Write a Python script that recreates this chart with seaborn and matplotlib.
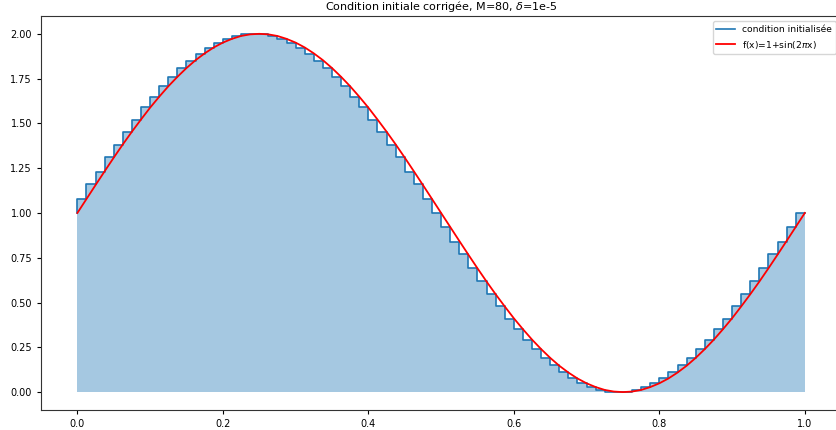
import matplotlib
matplotlib.use("Agg")
import matplotlib.pyplot as plt
import numpy as np
import seaborn as sns

# maillage : M cellules sur [0, 1]
M = 80
x_nodes = np.linspace(0.0, 1.0, M + 1)

# condition initialisée (valeur portée sur chaque cellule)
u0 = [
    1.00, 1.08, 1.16, 1.23, 1.31, 1.38, 1.45, 1.52, 1.59, 1.65,
    1.71, 1.76, 1.81, 1.85, 1.89, 1.92, 1.95, 1.97, 1.99, 2.00,
    2.00, 2.00, 1.99, 1.97, 1.95, 1.92, 1.89, 1.85, 1.81, 1.76,
    1.71, 1.65, 1.59, 1.52, 1.45, 1.38, 1.31, 1.23, 1.16, 1.08,
    1.00, 0.92, 0.84, 0.77, 0.69, 0.62, 0.55, 0.48, 0.41, 0.35,
    0.29, 0.24, 0.19, 0.15, 0.11, 0.08, 0.05, 0.03, 0.01, 0.00,
    0.00, 0.00, 0.01, 0.03, 0.05, 0.08, 0.11, 0.15, 0.19, 0.24,
    0.29, 0.35, 0.41, 0.48, 0.55, 0.62, 0.69, 0.77, 0.84, 0.92,
    1.00,
]

# courbe exacte f(x)=1+sin(2*pi*x) aux noeuds
f_exact = [
    1.000, 1.078, 1.156, 1.233, 1.309, 1.383, 1.454, 1.522, 1.588, 1.649,
    1.707, 1.760, 1.809, 1.853, 1.891, 1.924, 1.951, 1.972, 1.988, 1.997,
    2.000, 1.997, 1.988, 1.972, 1.951, 1.924, 1.891, 1.853, 1.809, 1.760,
    1.707, 1.649, 1.588, 1.522, 1.454, 1.383, 1.309, 1.233, 1.156, 1.078,
    1.000, 0.922, 0.844, 0.767, 0.691, 0.617, 0.546, 0.478, 0.412, 0.351,
    0.293, 0.240, 0.191, 0.147, 0.109, 0.076, 0.049, 0.028, 0.012, 0.003,
    0.000, 0.003, 0.012, 0.028, 0.049, 0.076, 0.109, 0.147, 0.191, 0.240,
    0.293, 0.351, 0.412, 0.478, 0.546, 0.617, 0.691, 0.767, 0.844, 0.922,
    1.000,
]

fig = plt.figure(figsize=(8.37, 4.30), dpi=100)
ax = fig.add_axes([0.049, 0.0465, 0.956, 0.9165])

ax.fill_between(x_nodes, u0, step="pre", color="tab:blue", alpha=0.4, linewidth=0)
sns.lineplot(x=x_nodes, y=u0, ax=ax, color="tab:blue", drawstyle="steps-pre",
             linewidth=1.2, label="condition initialisée")
sns.lineplot(x=x_nodes, y=f_exact, ax=ax, color="red", linewidth=1.3,
             label=r"f(x)=1+sin(2$\pi$x)")

ax.set_title(r"Condition initiale corrigée, M=80, $\delta$=1e-5", fontsize=8, pad=4)
ax.tick_params(labelsize=7, length=3, width=0.8)
for s in ax.spines.values():
    s.set_linewidth(0.8)
    s.set_color("#333333")
ax.set_xlim(-0.05, 1.05)
ax.set_ylim(-0.1, 2.1)
ax.legend(loc="upper right", fontsize=6.6, borderaxespad=0.6)

fig.savefig("out.png", dpi=100)
